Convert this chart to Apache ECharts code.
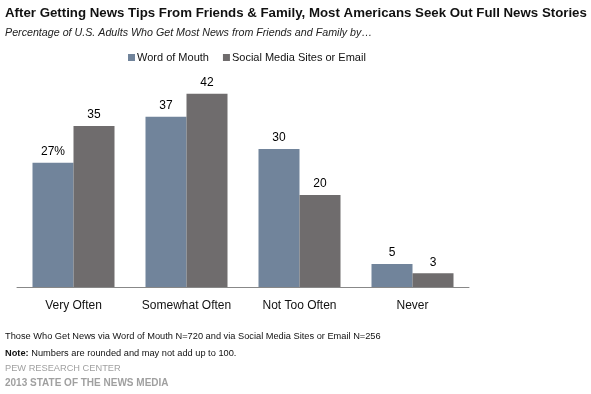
<!DOCTYPE html>
<html><head><meta charset="utf-8">
<script src="https://cdn.jsdelivr.net/npm/echarts@6/dist/echarts.min.js"></script>
<style>html,body{margin:0;padding:0;background:#fff}#c{width:591px;height:394px}</style>
</head><body><div id="c"></div>
<script>
const categories = ['Very Often', 'Somewhat Often', 'Not Too Often', 'Never'];
const wordOfMouth = [27, 37, 30, 5];
const socialMedia = [35, 42, 20, 3];
const seriesNames = ['Word of Mouth', 'Social Media Sites or Email'];

const chart = echarts.init(document.getElementById('c'), null, {renderer: 'canvas'});
const F = '"Liberation Sans", Arial, sans-serif';
const lbl = {show: true, position: 'top', distance: 5, color: '#000', fontFamily: F, fontSize: 12};
chart.setOption({
  animation: false,
  title: [
    {text: 'After Getting News Tips From Friends & Family, Most Americans Seek Out Full News Stories', left: 0, top: 2,
     textStyle: {fontFamily: F, fontWeight: 'bold', fontSize: 13.27, color: '#111'}},
    {text: 'Percentage of U.S. Adults Who Get Most News from Friends and Family by\u2026', left: 0, top: 23,
     textStyle: {fontFamily: F, fontStyle: 'italic', fontWeight: 'normal', fontSize: 10.7, color: '#222'}},
    {text: 'Those Who Get News via Word of Mouth N=720 and via Social Media Sites or Email N=256', left: 0, top: 327,
     textStyle: {fontFamily: F, fontWeight: 'normal', fontSize: 9.25, color: '#111'}},
    {text: '{b|Note:} Numbers are rounded and may not add up to 100.', left: 0, top: 344,
     textStyle: {fontFamily: F, fontWeight: 'normal', fontSize: 9.25, color: '#111',
       rich: {b: {fontFamily: F, fontWeight: 'bold', fontSize: 9.25, color: '#111'}}}},
    {text: 'PEW RESEARCH CENTER', left: 0, top: 359,
     textStyle: {fontFamily: F, fontWeight: 'normal', fontSize: 9.25, color: '#a0a0a0'}},
    {text: '2013 STATE OF THE NEWS MEDIA', left: 0, top: 373,
     textStyle: {fontFamily: F, fontWeight: 'bold', fontSize: 10, color: '#a0a0a0'}}
  ],
  legend: {
    data: seriesNames, top: 47, left: 123, itemWidth: 7, itemHeight: 7, itemGap: 14,
    icon: 'rect', textStyle: {fontFamily: F, fontSize: 11, color: '#111', padding: [0, 0, 0, -3]}
  },
  grid: {left: 17, right: 122, top: 80, bottom: 107, containLabel: false},
  xAxis: {
    type: 'category', data: categories,
    axisLine: {lineStyle: {color: '#888', width: 1}},
    axisTick: {show: false},
    axisLabel: {fontFamily: F, fontSize: 12, color: '#111', margin: 13, interval: 0}
  },
  yAxis: {type: 'value', min: 0, max: 45, show: false, splitLine: {show: false}},
  series: [
    {name: seriesNames[0], type: 'bar', data: wordOfMouth, barWidth: 41, barGap: '0%',
     itemStyle: {color: '#71849b'},
     label: Object.assign({}, lbl, {formatter: p => p.dataIndex === 0 ? p.value + '%' : String(p.value)})},
    {name: seriesNames[1], type: 'bar', data: socialMedia, barWidth: 41, barGap: '0%',
     itemStyle: {color: '#6f6c6d'}, label: lbl}
  ]
});
</script></body></html>
